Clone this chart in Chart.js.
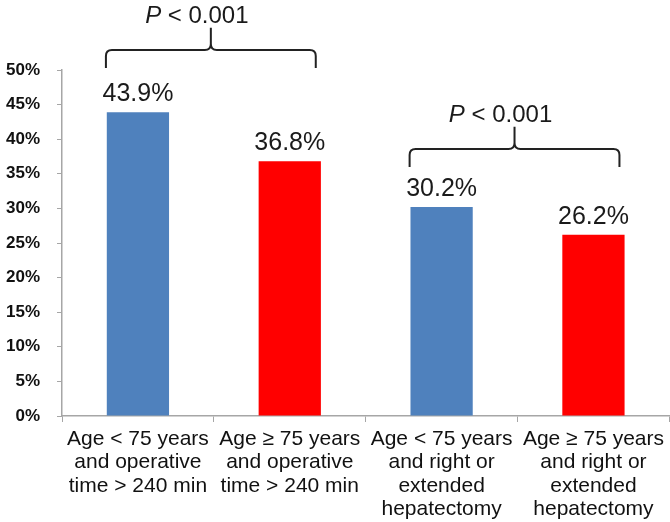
<!DOCTYPE html>
<html>
<head>
<meta charset="utf-8">
<script src="https://cdn.jsdelivr.net/npm/chart.js@4.4.1/dist/chart.umd.min.js"></script>
<style>
  html, body { margin: 0; padding: 0; background: #fff; }
  #wrap { width: 670px; height: 522px; }
</style>
</head>
<body>
<div id="wrap"><canvas id="c"></canvas></div>
<script>
// ── Data ─────────────────────────────────────────────
const categories = [
  ['Age < 75 years', 'and operative', 'time > 240 min'],
  ['Age \u2265 75 years', 'and operative', 'time > 240 min'],
  ['Age < 75 years', 'and right or', 'extended', 'hepatectomy'],
  ['Age \u2265 75 years', 'and right or', 'extended', 'hepatectomy'],
];
const values = [43.9, 36.8, 30.2, 26.2];
const barColors = ['#4F81BD', '#FF0000', '#4F81BD', '#FF0000'];
const pLabel = ['P', ' < 0.001'];
const yTicks = [0, 5, 10, 15, 20, 25, 30, 35, 40, 45, 50];

const AXIS = '#a6a6a6';
const FONT = "'Liberation Sans', Arial, sans-serif";

// ── Value labels above bars ──────────────────────────
const valueLabels = {
  id: 'valueLabels',
  afterDatasetsDraw(chart) {
    const { ctx } = chart;
    const meta = chart.getDatasetMeta(0);
    ctx.save();
    ctx.font = '25px ' + FONT;
    ctx.fillStyle = '#1a1a1a';
    ctx.textAlign = 'center';
    ctx.textBaseline = 'alphabetic';
    meta.data.forEach((bar, i) => {
      ctx.fillText(values[i].toFixed(1) + '%', bar.x, bar.y - 11);
    });
    ctx.restore();
  }
};

// ── Significance brackets ────────────────────────────
const brackets = {
  id: 'brackets',
  afterDraw(chart, args, opts) {
    const { ctx, scales: { x, y } } = chart;
    ctx.save();
    ctx.strokeStyle = '#222';
    ctx.lineWidth = 2;
    opts.items.forEach(b => {
      const x0 = x.getPixelForValue(b.from) - 32;
      const x1 = x.getPixelForValue(b.to) + 26;
      const mid = (x0 + x1) / 2;
      const yl = y.getPixelForValue(b.level);
      const yEnd = y.getPixelForValue(b.level - 2.6);
      const yTop = y.getPixelForValue(b.level + 3.2);
      const r = 6;
      ctx.beginPath();
      ctx.moveTo(x0, yEnd);
      ctx.lineTo(x0, yl + r);
      ctx.quadraticCurveTo(x0, yl, x0 + r, yl);
      ctx.lineTo(mid - r, yl);
      ctx.quadraticCurveTo(mid, yl, mid, yl - r);
      ctx.lineTo(mid, yTop);
      ctx.moveTo(mid, yl - r);
      ctx.quadraticCurveTo(mid, yl, mid + r, yl);
      ctx.lineTo(x1 - r, yl);
      ctx.quadraticCurveTo(x1, yl, x1, yl + r);
      ctx.lineTo(x1, yEnd);
      ctx.stroke();

      // label: italic P then regular rest
      ctx.fillStyle = '#1a1a1a';
      ctx.textBaseline = 'alphabetic';
      ctx.textAlign = 'left';
      ctx.font = 'italic 24px ' + FONT;
      const wP = ctx.measureText(pLabel[0]).width;
      ctx.font = '24px ' + FONT;
      const wR = ctx.measureText(pLabel[1]).width;
      const tx = mid - 14 - (wP + wR) / 2;
      const ty = yTop - 5;
      ctx.font = 'italic 24px ' + FONT;
      ctx.fillText(pLabel[0], tx, ty);
      ctx.font = '24px ' + FONT;
      ctx.fillText(pLabel[1], tx + wP, ty);
    });
    ctx.restore();
  }
};

new Chart(document.getElementById('c'), {
  type: 'bar',
  data: {
    labels: categories,
    datasets: [{
      data: values,
      backgroundColor: barColors,
      borderWidth: 0,
      barPercentage: 0.41,
      categoryPercentage: 1.0,
    }]
  },
  plugins: [valueLabels, brackets],
  options: {
    responsive: true,
    maintainAspectRatio: false,
    animation: false,
    layout: { padding: { top: 70, left: 0, right: -7, bottom: 0 } },
    plugins: {
      legend: { display: false },
      tooltip: { enabled: false },
      brackets: {
        items: [
          { from: 0, to: 1, level: 52.9 },
          { from: 2, to: 3, level: 38.6 },
        ]
      }
    },
    scales: {
      x: {
        afterFit: (s) => { s.height = 106; },
        border: { color: AXIS, width: 1.5 },
        grid: { offset: true, drawOnChartArea: false, color: AXIS, tickLength: 6 },
        ticks: {
          color: '#111',
          font: { family: FONT, size: 21, lineHeight: 1.1 },
          autoSkip: false,
          maxRotation: 0,
          minRotation: 0,
          padding: 6,
        }
      },
      y: {
        min: 0,
        max: 50,
        afterFit: (s) => { s.width = 62; },
        afterBuildTicks: (s) => { s.ticks = yTicks.map(v => ({ value: v })); },
        border: { color: AXIS, width: 1.5 },
        grid: { drawOnChartArea: false, color: AXIS, tickLength: 5 },
        ticks: {
          color: '#111',
          font: { family: FONT, size: 17, weight: 'bold' },
          padding: 17,
          callback: (v) => v + '%',
        }
      }
    }
  }
});
</script>
</body>
</html>
